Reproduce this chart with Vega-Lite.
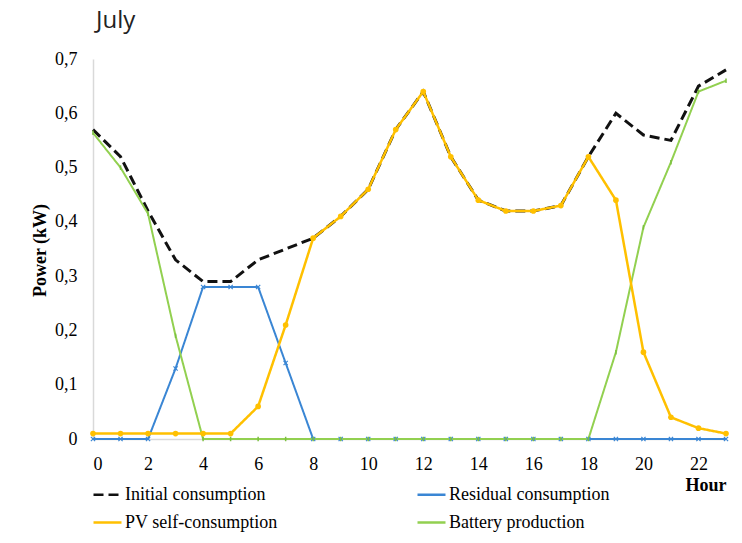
{
  "$schema": "https://vega.github.io/schema/vega-lite/v6.json",
  "width": 633,
  "height": 380,
  "autosize": {"type": "none"},
  "padding": {"left": 93, "top": 59, "right": 16, "bottom": 104},
  "background": "white",
  "title": {"text": "July", "anchor": "start", "frame": "group", "font": "Open Sans", "fontSize": 24, "fontWeight": "normal", "color": "#222222", "dx": 3, "offset": -2, "baseline": "alphabetic"},
  "config": {
    "view": {"stroke": null},
    "axis": {"labelFont": "Liberation Serif", "labelFontSize": 18, "labelColor": "black", "titleFont": "Liberation Serif", "titleFontSize": 18, "titleFontWeight": "bold", "titleColor": "black", "ticks": false, "grid": false, "domainColor": "#d9d9d9", "domainWidth": 1.5},
    "legend": {"labelFont": "Liberation Serif", "labelFontSize": 18, "labelColor": "black", "labelLimit": 400}
  },
  "data": {"values": [
    {"hour": 0, "series": "Initial consumption", "value": 0.57},
    {"hour": 1, "series": "Initial consumption", "value": 0.52},
    {"hour": 2, "series": "Initial consumption", "value": 0.42},
    {"hour": 3, "series": "Initial consumption", "value": 0.33},
    {"hour": 4, "series": "Initial consumption", "value": 0.29},
    {"hour": 5, "series": "Initial consumption", "value": 0.29},
    {"hour": 6, "series": "Initial consumption", "value": 0.33},
    {"hour": 7, "series": "Initial consumption", "value": 0.35},
    {"hour": 8, "series": "Initial consumption", "value": 0.37},
    {"hour": 9, "series": "Initial consumption", "value": 0.41},
    {"hour": 10, "series": "Initial consumption", "value": 0.46},
    {"hour": 11, "series": "Initial consumption", "value": 0.57},
    {"hour": 12, "series": "Initial consumption", "value": 0.64},
    {"hour": 13, "series": "Initial consumption", "value": 0.52},
    {"hour": 14, "series": "Initial consumption", "value": 0.44},
    {"hour": 15, "series": "Initial consumption", "value": 0.42},
    {"hour": 16, "series": "Initial consumption", "value": 0.42},
    {"hour": 17, "series": "Initial consumption", "value": 0.43},
    {"hour": 18, "series": "Initial consumption", "value": 0.52},
    {"hour": 19, "series": "Initial consumption", "value": 0.60},
    {"hour": 20, "series": "Initial consumption", "value": 0.56},
    {"hour": 21, "series": "Initial consumption", "value": 0.55},
    {"hour": 22, "series": "Initial consumption", "value": 0.65},
    {"hour": 23, "series": "Initial consumption", "value": 0.68},
    {"hour": 0, "series": "Residual consumption", "value": 0},
    {"hour": 1, "series": "Residual consumption", "value": 0},
    {"hour": 2, "series": "Residual consumption", "value": 0},
    {"hour": 3, "series": "Residual consumption", "value": 0.13},
    {"hour": 4, "series": "Residual consumption", "value": 0.28},
    {"hour": 5, "series": "Residual consumption", "value": 0.28},
    {"hour": 6, "series": "Residual consumption", "value": 0.28},
    {"hour": 7, "series": "Residual consumption", "value": 0.14},
    {"hour": 8, "series": "Residual consumption", "value": 0},
    {"hour": 9, "series": "Residual consumption", "value": 0},
    {"hour": 10, "series": "Residual consumption", "value": 0},
    {"hour": 11, "series": "Residual consumption", "value": 0},
    {"hour": 12, "series": "Residual consumption", "value": 0},
    {"hour": 13, "series": "Residual consumption", "value": 0},
    {"hour": 14, "series": "Residual consumption", "value": 0},
    {"hour": 15, "series": "Residual consumption", "value": 0},
    {"hour": 16, "series": "Residual consumption", "value": 0},
    {"hour": 17, "series": "Residual consumption", "value": 0},
    {"hour": 18, "series": "Residual consumption", "value": 0},
    {"hour": 19, "series": "Residual consumption", "value": 0},
    {"hour": 20, "series": "Residual consumption", "value": 0},
    {"hour": 21, "series": "Residual consumption", "value": 0},
    {"hour": 22, "series": "Residual consumption", "value": 0},
    {"hour": 23, "series": "Residual consumption", "value": 0},
    {"hour": 0, "series": "PV self-consumption", "value": 0.01},
    {"hour": 1, "series": "PV self-consumption", "value": 0.01},
    {"hour": 2, "series": "PV self-consumption", "value": 0.01},
    {"hour": 3, "series": "PV self-consumption", "value": 0.01},
    {"hour": 4, "series": "PV self-consumption", "value": 0.01},
    {"hour": 5, "series": "PV self-consumption", "value": 0.01},
    {"hour": 6, "series": "PV self-consumption", "value": 0.06},
    {"hour": 7, "series": "PV self-consumption", "value": 0.21},
    {"hour": 8, "series": "PV self-consumption", "value": 0.37},
    {"hour": 9, "series": "PV self-consumption", "value": 0.41},
    {"hour": 10, "series": "PV self-consumption", "value": 0.46},
    {"hour": 11, "series": "PV self-consumption", "value": 0.57},
    {"hour": 12, "series": "PV self-consumption", "value": 0.64},
    {"hour": 13, "series": "PV self-consumption", "value": 0.52},
    {"hour": 14, "series": "PV self-consumption", "value": 0.44},
    {"hour": 15, "series": "PV self-consumption", "value": 0.42},
    {"hour": 16, "series": "PV self-consumption", "value": 0.42},
    {"hour": 17, "series": "PV self-consumption", "value": 0.43},
    {"hour": 18, "series": "PV self-consumption", "value": 0.52},
    {"hour": 19, "series": "PV self-consumption", "value": 0.44},
    {"hour": 20, "series": "PV self-consumption", "value": 0.16},
    {"hour": 21, "series": "PV self-consumption", "value": 0.04},
    {"hour": 22, "series": "PV self-consumption", "value": 0.02},
    {"hour": 23, "series": "PV self-consumption", "value": 0.01},
    {"hour": 0, "series": "Battery production", "value": 0.564},
    {"hour": 1, "series": "Battery production", "value": 0.50},
    {"hour": 2, "series": "Battery production", "value": 0.415},
    {"hour": 3, "series": "Battery production", "value": 0.19},
    {"hour": 4, "series": "Battery production", "value": 0},
    {"hour": 5, "series": "Battery production", "value": 0},
    {"hour": 6, "series": "Battery production", "value": 0},
    {"hour": 7, "series": "Battery production", "value": 0},
    {"hour": 8, "series": "Battery production", "value": 0},
    {"hour": 9, "series": "Battery production", "value": 0},
    {"hour": 10, "series": "Battery production", "value": 0},
    {"hour": 11, "series": "Battery production", "value": 0},
    {"hour": 12, "series": "Battery production", "value": 0},
    {"hour": 13, "series": "Battery production", "value": 0},
    {"hour": 14, "series": "Battery production", "value": 0},
    {"hour": 15, "series": "Battery production", "value": 0},
    {"hour": 16, "series": "Battery production", "value": 0},
    {"hour": 17, "series": "Battery production", "value": 0},
    {"hour": 18, "series": "Battery production", "value": 0},
    {"hour": 19, "series": "Battery production", "value": 0.16},
    {"hour": 20, "series": "Battery production", "value": 0.39},
    {"hour": 21, "series": "Battery production", "value": 0.51},
    {"hour": 22, "series": "Battery production", "value": 0.64},
    {"hour": 23, "series": "Battery production", "value": 0.66}
  ]},
  "encoding": {
    "x": {"field": "hour", "type": "quantitative", "scale": {"domain": [0, 23], "nice": false},
      "axis": {"values": [0, 2, 4, 6, 8, 10, 12, 14, 16, 18, 20, 22], "labelFont": "Liberation Serif", "labelPadding": 16, "title": "Hour", "titleAnchor": "end", "titleAlign": "right", "titleBaseline": "middle", "titleX": 633, "titleY": 46, "domain": true}},
    "y": {"field": "value", "type": "quantitative", "scale": {"domain": [0, 0.7], "nice": false},
      "axis": {"values": [0, 0.1, 0.2, 0.3, 0.4, 0.5, 0.6, 0.7], "labelFont": "Liberation Serif", "format": "~g", "labelExpr": "replace(datum.label, '.', ',')", "labelPadding": 16, "title": "Power (kW)", "titleAlign": "center", "titleBaseline": "middle", "titleX": -53, "titleY": 191}}
  },
  "layer": [
    {
      "transform": [{"filter": "datum.series === 'Initial consumption'"}],
      "mark": {"type": "line", "strokeWidth": 3},
      "encoding": {
        "color": {"field": "series", "type": "nominal",
          "scale": {"domain": ["Initial consumption", "Residual consumption", "PV self-consumption", "Battery production"], "range": ["#111111", "#3A86D4", "#FFC000", "#92D050"]},
          "legend": {"title": null, "orient": "none", "direction": "horizontal", "legendX": -1, "legendY": 420, "columns": 2, "columnPadding": 134, "rowPadding": 3, "symbolType": "stroke", "symbolSize": 784, "symbolStrokeWidth": 2.5, "labelOffset": 2, "labelFont": "Liberation Serif", "labelFontSize": 18, "labelLimit": 400}},
        "strokeDash": {"field": "series", "type": "nominal",
          "scale": {"domain": ["Initial consumption", "Residual consumption", "PV self-consumption", "Battery production"], "range": [[10, 5], [1, 0], [1, 0], [1, 0]]},
          "legend": {"title": null, "orient": "none", "direction": "horizontal", "legendX": -1, "legendY": 420, "columns": 2, "columnPadding": 134, "rowPadding": 3, "symbolType": "stroke", "symbolSize": 784, "symbolStrokeWidth": 2.5, "labelOffset": 2, "labelFont": "Liberation Serif", "labelFontSize": 18, "labelLimit": 400}}
      }
    },
    {
      "transform": [{"filter": "datum.series === 'Residual consumption'"}],
      "mark": {"type": "line", "strokeWidth": 2},
      "encoding": {"color": {"field": "series", "type": "nominal"}, "strokeDash": {"field": "series", "type": "nominal"}}
    },
    {
      "transform": [{"filter": "datum.series === 'Battery production'"}],
      "mark": {"type": "line", "strokeWidth": 2},
      "encoding": {"color": {"field": "series", "type": "nominal"}, "strokeDash": {"field": "series", "type": "nominal"}}
    },
    {
      "transform": [{"filter": "datum.series === 'PV self-consumption'"}],
      "mark": {"type": "line", "strokeWidth": 2.5},
      "encoding": {"color": {"field": "series", "type": "nominal"}, "strokeDash": {"field": "series", "type": "nominal"}}
    },
    {
      "transform": [{"filter": "datum.series === 'Residual consumption'"}],
      "mark": {"type": "point", "shape": "M-1,-1L1,1M-1,1L1,-1", "filled": false, "color": "#3A86D4", "size": 18, "strokeWidth": 1.2, "opacity": 1}
    },
    {
      "transform": [{"filter": "datum.series === 'Battery production'"}],
      "mark": {"type": "point", "shape": "M0,-1L0,1", "filled": false, "color": "#7CC040", "size": 20, "strokeWidth": 1.5, "opacity": 1}
    },
    {
      "transform": [{"filter": "datum.series === 'PV self-consumption'"}],
      "mark": {"type": "point", "shape": "circle", "filled": true, "color": "#FFC000", "size": 32, "opacity": 1}
    }
  ]
}
